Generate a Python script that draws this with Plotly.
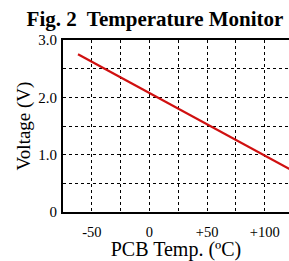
import plotly.graph_objects as go

# Data
temp_c = [-62, 125]
voltage_v = [2.75, 0.71]

x_tickvals = [-75, -50, -25, 0, 25, 50, 75, 100, 125]
x_ticktext = ["", "-50", "", "0", "", "+50", "", "+100", ""]
y_tickvals = [0, 0.5, 1.0, 1.5, 2.0, 2.5, 3.0]
y_ticktext = ["0", "", "1.0", "", "2.0", "", "3.0"]

FONT = "Liberation Serif"

fig = go.Figure()
fig.add_trace(go.Scatter(x=temp_c, y=voltage_v, mode="lines",
                         line=dict(color="#d01010", width=2.2),
                         hoverinfo="skip", showlegend=False))

fig.update_layout(
    width=289, height=261,
    margin=dict(l=63, r=0, t=40, b=49),
    paper_bgcolor="white", plot_bgcolor="white",
    font=dict(family=FONT, color="black"),
    title=dict(text="<b>Fig. 2\u00a0 Temperature Monitor</b>",
               font=dict(family=FONT, size=21, color="black"),
               x=155/289, xanchor="center", y=1-19/261, yanchor="middle"),
    xaxis=dict(range=[-75, 121], tickvals=x_tickvals, ticktext=x_ticktext,
               showgrid=True, gridcolor="black", griddash="dot", gridwidth=1,
               showline=True, linecolor="black", linewidth=2, mirror=True,
               ticks="", tickfont=dict(family=FONT, size=14.5, color="black"),
               ticklabelstandoff=6,
               title=dict(text="PCB Temp. (ºC)", font=dict(family=FONT, size=20, color="black"),
                          standoff=5),
               zeroline=False, fixedrange=True),
    yaxis=dict(range=[0, 3.0], tickvals=y_tickvals, ticktext=y_ticktext,
               showgrid=True, gridcolor="black", griddash="dot", gridwidth=1,
               showline=True, linecolor="black", linewidth=2, mirror=False,
               ticks="", tickfont=dict(family=FONT, size=15, color="black"),
               ticklabelstandoff=1,
               title=dict(text="Voltage (V)", font=dict(family=FONT, size=19, color="black"),
                          standoff=3),
               zeroline=False, fixedrange=True),
)

fig.write_html("out.html", config=dict(displayModeBar=False),
               post_script="document.body.style.margin='0';document.body.style.overflow='hidden';")
